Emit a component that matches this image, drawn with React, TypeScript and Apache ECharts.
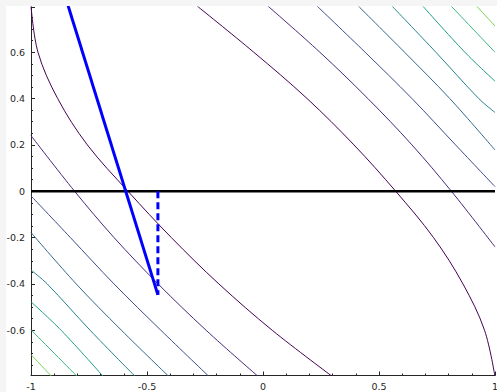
import React, { useEffect, useRef } from 'react';
import * as echarts from 'echarts';

// Contour levels (viridis colours), each split into a lower-left and an upper-right branch
const levelColors = ['#440154', '#482878', '#3e4c8a', '#31688e', '#26828e', '#1f9e89', '#35b779', '#7ad151'];

const level1A = [[-1.0, 0.8], [-0.97, 0.6], [-0.885, 0.4], [-0.757, 0.2], [-0.582, 0], [-0.395, -0.2], [-0.19, -0.4], [0.04, -0.6], [0.3, -0.8]];
const level1B = [[-0.285, 0.8], [-0.04, 0.6], [0.19, 0.4], [0.392, 0.2], [0.572, 0], [0.735, -0.2], [0.862, -0.4], [0.955, -0.6], [1.0, -0.8]];
const level2A = [[-1, 0.24], [-0.812, 0], [-0.642, -0.2], [-0.452, -0.4], [-0.245, -0.6], [-0.02, -0.8]];
const level2B = [[0.02, 0.8], [0.245, 0.6], [0.452, 0.4], [0.642, 0.2], [0.812, 0], [1, -0.24]];
const level3A = [[-1, -0.02], [-0.83, -0.2], [-0.642, -0.4], [-0.44, -0.6], [-0.232, -0.8]];
const level3B = [[0.232, 0.8], [0.44, 0.6], [0.642, 0.4], [0.83, 0.2], [1, 0.02]];
const level4A = [[-1, -0.178], [-0.805, -0.4], [-0.61, -0.6], [-0.405, -0.8]];
const level4B = [[0.41, 0.8], [0.61, 0.6], [0.805, 0.4], [1, 0.178]];
const level5A = [[-1, -0.34], [-0.93, -0.4], [-0.745, -0.6], [-0.55, -0.8]];
const level5B = [[0.555, 0.8], [0.745, 0.6], [0.93, 0.4], [1, 0.34]];
const level6A = [[-1, -0.477], [-0.87, -0.6], [-0.688, -0.8]];
const level6B = [[0.688, 0.8], [0.87, 0.6], [1, 0.475]];
const level7A = [[-1, -0.598], [-0.8, -0.8]];
const level7B = [[0.81, 0.8], [1, 0.6]];
const level8A = [[-1, -0.705], [-0.91, -0.8]];
const level8B = [[0.92, 0.8], [1, 0.713]];

const contourBranches = [
  [level1A, level1B],
  [level2A, level2B],
  [level3A, level3B],
  [level4A, level4B],
  [level5A, level5B],
  [level6A, level6B],
  [level7A, level7B],
  [level8A, level8B],
];

// Constraint line y = 0
const constraintLine = [[-1, 0], [1, 0]];
// Blue step path and its dashed projection
const stepPath = [[-0.84, 0.8], [-0.453, -0.447]];
const projection = [[-0.453, 0], [-0.453, -0.447]];

const axisColor = '#262626';
const font = 'DejaVu Sans';

export default function App() {
  const ref = useRef<HTMLDivElement>(null);
  useEffect(() => {
    document.body.style.margin = '0';
    document.body.style.background = '#f5f5f5';
    const chart = echarts.init(ref.current!, null, { renderer: 'svg' });
    const series: any[] = [];
    contourBranches.forEach((branches, i) => {
      branches.forEach((pts) => {
        series.push({
          type: 'line',
          data: pts,
          smooth: 0.35,
          symbol: 'none',
          clip: true,
          silent: true,
          lineStyle: { color: levelColors[i], width: 1 },
        });
      });
    });
    series.push({
      type: 'line', data: constraintLine, symbol: 'none', clip: true,
      lineStyle: { color: '#000000', width: 2.5 },
    });
    series.push({
      type: 'line', data: stepPath, symbol: 'none', clip: true,
      lineStyle: { color: '#0000ff', width: 3 },
    });
    series.push({
      type: 'line', data: projection, symbol: 'none', clip: true,
      lineStyle: { color: '#0000ff', width: 3, type: [7, 4] },
    });
    const axisCommon = {
      type: 'value',
      axisLine: { show: true, onZero: false, lineStyle: { color: axisColor, width: 1 } },
      axisTick: { show: true, inside: true, length: 4, lineStyle: { color: axisColor } },
      minorTick: { show: true, length: 2, lineStyle: { color: axisColor } },
      splitLine: { show: false },
      axisLabel: { color: axisColor, fontSize: 9.5, fontFamily: font, margin: 6 },
    };
    chart.setOption({
      animation: false,
      backgroundColor: '#ffffff',
      grid: { left: 25, top: 1, width: 464, height: 368.5, outerBoundsMode: 'none', containLabel: false },
      xAxis: {
        ...axisCommon,
        min: -1, max: 1, interval: 0.5,
        minorTick: { ...axisCommon.minorTick, splitNumber: 5 },
      },
      yAxis: {
        ...axisCommon,
        min: -0.795, max: 0.795, splitNumber: 8, minInterval: 0.2, maxInterval: 0.2,
        minorTick: { ...axisCommon.minorTick, splitNumber: 4 },
        axisLabel: { ...axisCommon.axisLabel, showMinLabel: false, showMaxLabel: false },
      },
      series,
    });
    return () => chart.dispose();
  }, []);
  return (
    <div
      ref={ref}
      style={{ position: 'absolute', left: 6, top: 6, width: 491, height: 386, background: '#fff' }}
    />
  );
}
